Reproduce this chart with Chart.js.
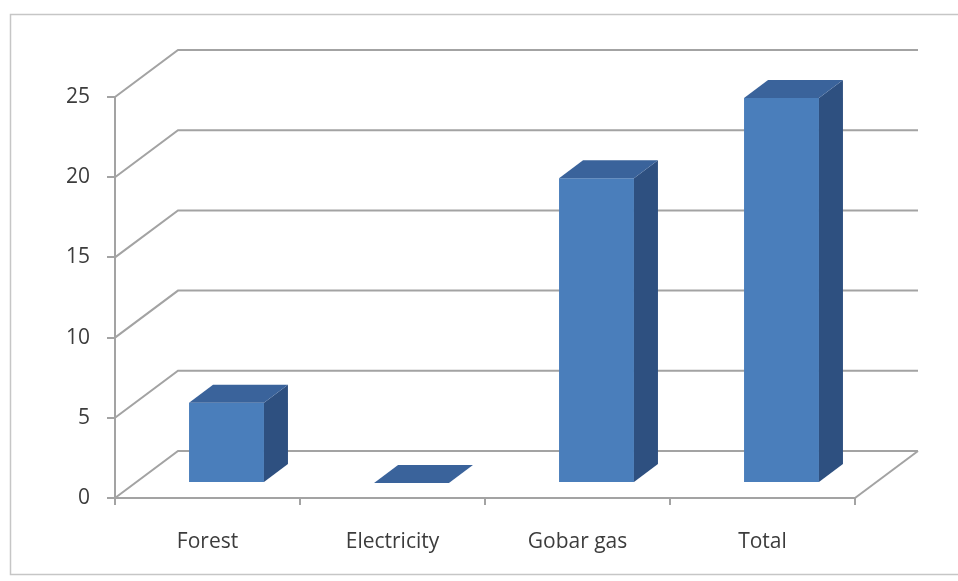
<!DOCTYPE html>
<html>
<head>
<meta charset="utf-8">
<script src="https://cdn.jsdelivr.net/npm/chart.js@4"></script>
<style>
  html, body { margin: 0; padding: 0; background: #fff; }
  canvas { display: block; }
</style>
</head>
<body>
<canvas id="chart" width="958" height="581"></canvas>
<script>
// Chart data
const categories = ["Forest", "Electricity", "Gobar gas", "Total"];
const values = [5, 0, 19, 24];
const yTicks = [0, 5, 10, 15, 20, 25];

const gridColor = "#a3a3a3";
const frontColor = "#4a7ebb";
const sideColor = "#2e5080";
const topColor = "#3a639b";
const labelFont = { family: "'Open Sans'", size: 21 };

// fake 3D depth: full floor depth, bar offset and bar depth
const wall = { dx: 63, dy: -47 };
const barShift = { dx: 19, dy: -15 };
const barDepth = { dx: 24, dy: -18 };

const threeD = {
  id: "threeD",
  beforeDraw(chart) {
    const ctx = chart.ctx;
    ctx.save();
    ctx.fillStyle = "#fff";
    ctx.fillRect(0, 0, chart.width, chart.height);
    ctx.strokeStyle = "#c6c6c6";
    ctx.lineWidth = 1.5;
    ctx.strokeRect(10.5, 14.5, 970, 560);
    ctx.restore();
  },
  beforeDatasetsDraw(chart) {
    const ctx = chart.ctx;
    const x = chart.scales.x;
    const y = chart.scales.y;
    const left = x.left, right = x.right;
    ctx.save();
    ctx.strokeStyle = gridColor;
    ctx.lineWidth = 2;
    yTicks.forEach(v => {
      const py = y.getPixelForValue(v);
      ctx.beginPath();
      ctx.moveTo(left, py);
      ctx.lineTo(left + wall.dx, py + wall.dy);
      ctx.lineTo(right + wall.dx, py + wall.dy);
      ctx.stroke();
    });
    // right edge of the floor
    const p0 = y.getPixelForValue(0);
    ctx.beginPath();
    ctx.moveTo(right, p0);
    ctx.lineTo(right + wall.dx, p0 + wall.dy);
    ctx.stroke();
    ctx.restore();
    ctx.save();
    ctx.translate(barShift.dx, barShift.dy);
  },
  afterDatasetsDraw(chart) {
    const ctx = chart.ctx;
    ctx.restore();
    const meta = chart.getDatasetMeta(0);
    ctx.save();
    meta.data.forEach(bar => {
      const l = bar.x - bar.width / 2 + barShift.dx;
      const r = bar.x + bar.width / 2 + barShift.dx;
      const t = bar.y + barShift.dy;
      const b = bar.base + barShift.dy;
      // side face
      if (b - t > 0.5) {
        ctx.fillStyle = sideColor;
        ctx.beginPath();
        ctx.moveTo(r, t);
        ctx.lineTo(r + barDepth.dx, t + barDepth.dy);
        ctx.lineTo(r + barDepth.dx, b + barDepth.dy);
        ctx.lineTo(r, b);
        ctx.closePath();
        ctx.fill();
      }
      // top face
      ctx.fillStyle = topColor;
      ctx.beginPath();
      ctx.moveTo(l, t);
      ctx.lineTo(l + barDepth.dx, t + barDepth.dy);
      ctx.lineTo(r + barDepth.dx, t + barDepth.dy);
      ctx.lineTo(r, t);
      ctx.closePath();
      ctx.fill();
    });
    ctx.restore();
  }
};

const ctx = document.getElementById("chart").getContext("2d");
const chart = new Chart(ctx, {
  type: "bar",
  data: {
    labels: categories,
    datasets: [
      {
        data: values,
        backgroundColor: frontColor,
        borderWidth: 0,
        categoryPercentage: 1,
        barPercentage: 0.405,
        clip: false,
      },
    ],
  },
  options: {
    responsive: false,
    animation: false,
    events: [],
    layout: { padding: { left: 0, top: 97, right: 103, bottom: 0 } },
    plugins: { legend: { display: false }, tooltip: { enabled: false } },
    scales: {
      x: {
        offset: true,
        grid: { offset: true, drawOnChartArea: false, drawTicks: true, tickLength: 7, color: gridColor, lineWidth: 2 },
        border: { display: true, color: gridColor, width: 2 },
        ticks: { color: "#3c3c3c", font: labelFont, padding: 24, maxRotation: 0 },
        afterFit(scale) { scale.height = 83; },
      },
      y: {
        min: 0,
        max: 25,
        grid: { drawOnChartArea: false, drawTicks: true, tickLength: 8, color: gridColor, lineWidth: 2 },
        border: { display: true, color: gridColor, width: 2 },
        ticks: { stepSize: 5, color: "#3c3c3c", font: labelFont, padding: 17 },
        afterFit(scale) { scale.width = 115; },
      },
    },
  },
  plugins: [threeD],
});
</script>
</body>
</html>
